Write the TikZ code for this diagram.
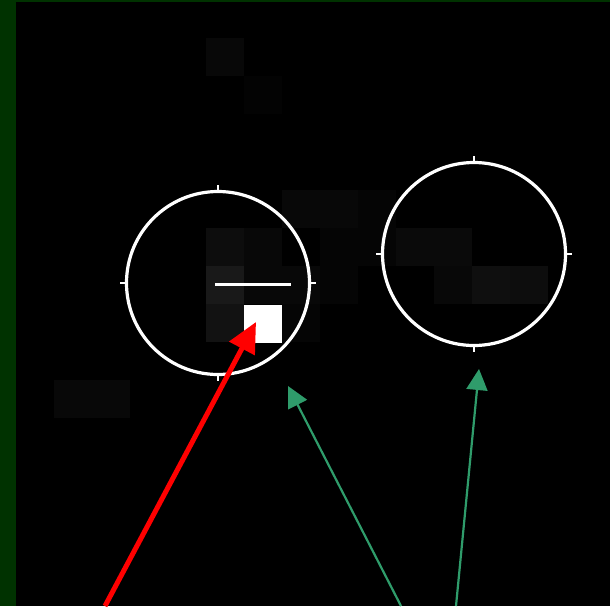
\documentclass[tikz,border=0pt]{standalone}
\usepackage{xcolor}
\usetikzlibrary{arrows.meta}

\definecolor{framegreen}{HTML}{003200}
\definecolor{markgreen}{HTML}{2F9C6B}

\begin{document}
\begin{tikzpicture}[x=1pt, y=-1pt,
    ring/.style={draw=white, line width=3.2pt, circle, minimum size=183pt, inner sep=0pt},
    ticktip/.style={white, line width=2pt},
    cell/.style={draw=none, minimum size=38pt, inner sep=0pt},
    bar/.style={fill=white, minimum width=76pt, minimum height=3pt, inner sep=0pt},
    redarrow/.style={-{Triangle[length=30pt, width=28pt]}, red, line width=5pt},
    greenarrow/.style={-{Triangle[length=21pt, width=21pt]}, markgreen, line width=2.2pt},
]
% frame and background
\fill[black] (0,0) rectangle (610,606);
\fill[framegreen] (0,0) rectangle (16,606);
\fill[framegreen] (16,0) rectangle (610,2);

% faint cells (column, row, grey level)
\foreach \c/\r/\g in {5/1/3, 6/2/1, 1/10/3, 2/10/3,
    5/6/5, 6/6/3, 5/7/10, 6/7/3, 5/8/7,
    7/5/3, 8/5/3, 9/5/2, 7/7/3, 7/8/2, 8/6/2, 8/7/2, 9/6/2,
    10/6/4, 11/6/4, 11/7/3, 12/7/6, 13/7/5}
  \node[cell, fill=white!\g!black] (cell-\c-\r) at (35+38*\c, 19+38*\r) {};

% rings
\node[ring] (leftring) at (218,283) {};
\node[ring] (rightring) at (474,254) {};
\foreach \ringname in {leftring, rightring} {
  \draw[ticktip] (\ringname.north) -- ++(0,-5);
  \draw[ticktip] (\ringname.south) -- ++(0,5);
  \draw[ticktip] (\ringname.west) -- ++(-5,0);
  \draw[ticktip] (\ringname.east) -- ++(5,0);
}

% marks inside the left ring
\node[bar] (bar) at (253,284) {};
\node[cell, fill=white] (marker) at (263,323.5) {};

% pointers
\coordinate (redtail) at (105,606);
\coordinate (redtip) at (256,322);
\coordinate (lefttail) at (401,606);
\coordinate (lefttip) at (288,386);
\coordinate (righttail) at (456,606);
\coordinate (righttip) at (479,369);

\draw[redarrow] (redtail) -- (redtip);
\draw[greenarrow] (lefttail) -- (lefttip);
\draw[greenarrow] (righttail) -- (righttip);
\end{tikzpicture}
\end{document}
